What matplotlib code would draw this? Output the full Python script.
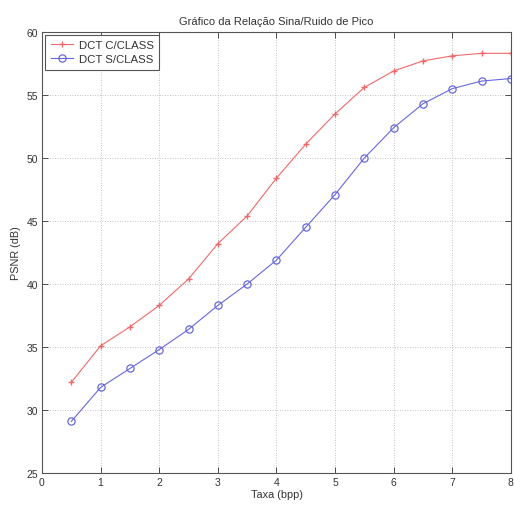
import matplotlib
matplotlib.use("Agg")
import matplotlib.pyplot as plt

taxa = [0.5, 1, 1.5, 2, 2.5, 3, 3.5, 4, 4.5, 5, 5.5, 6, 6.5, 7, 7.5, 8]
psnr_com = [32.2, 35.1, 36.6, 38.3, 40.4, 43.2, 45.4, 48.4, 51.1, 53.5, 55.6, 56.9, 57.7, 58.1, 58.3, 58.3]
psnr_sem = [29.1, 31.8, 33.3, 34.8, 36.4, 38.3, 40.0, 41.9, 44.5, 47.1, 50.0, 52.4, 54.3, 55.5, 56.1, 56.3]
xticks = [0, 1, 2, 3, 4, 5, 6, 7, 8]
yticks = [25, 30, 35, 40, 45, 50, 55, 60]

plt.rcParams['font.family'] = ['Liberation Sans', 'DejaVu Sans']

fig = plt.figure(figsize=(5.14, 5.06), dpi=100)
ax = fig.add_axes([0.0817, 0.063, 0.9123, 0.872])

ax.plot(taxa, psnr_com, color='#ee6a6a', marker='+', markersize=5, linewidth=0.8,
        markeredgewidth=1.0, label='DCT C/CLASS')
ax.plot(taxa, psnr_sem, color='#6868dc', marker='o', markersize=5.2, linewidth=0.8,
        markerfacecolor='none', markeredgewidth=0.9, label='DCT S/CLASS')

ax.set_xlim(0, 8)
ax.set_ylim(25, 60)
ax.set_xticks(xticks)
ax.set_yticks(yticks)
ax.tick_params(direction='in', length=4, labelsize=7.5, top=True, right=True,
               width=0.6, pad=3, colors='#333333')
ax.grid(True, linestyle=(0, (1, 2)), color='#b0b0b0', linewidth=0.6)
for s in ax.spines.values():
    s.set_linewidth(0.8)
    s.set_color('#555555')

ax.set_title('Gráfico da Relação Sina/Ruido de Pico', fontsize=8, pad=6, color='#333333')
ax.set_xlabel('Taxa (bpp)', fontsize=7.8, labelpad=1, color='#333333')
ax.set_ylabel('PSNR (dB)', fontsize=7.8, labelpad=4, color='#333333')

leg = ax.legend(loc='upper left', fontsize=8.2, fancybox=False, framealpha=1,
                edgecolor='#555555', borderaxespad=0.3, handlelength=2.0,
                borderpad=0.45, labelspacing=0.35, handletextpad=0.5)
leg.get_frame().set_linewidth(0.8)
for t in leg.get_texts():
    t.set_color('#333333')

fig.savefig('out.png', dpi=100)
